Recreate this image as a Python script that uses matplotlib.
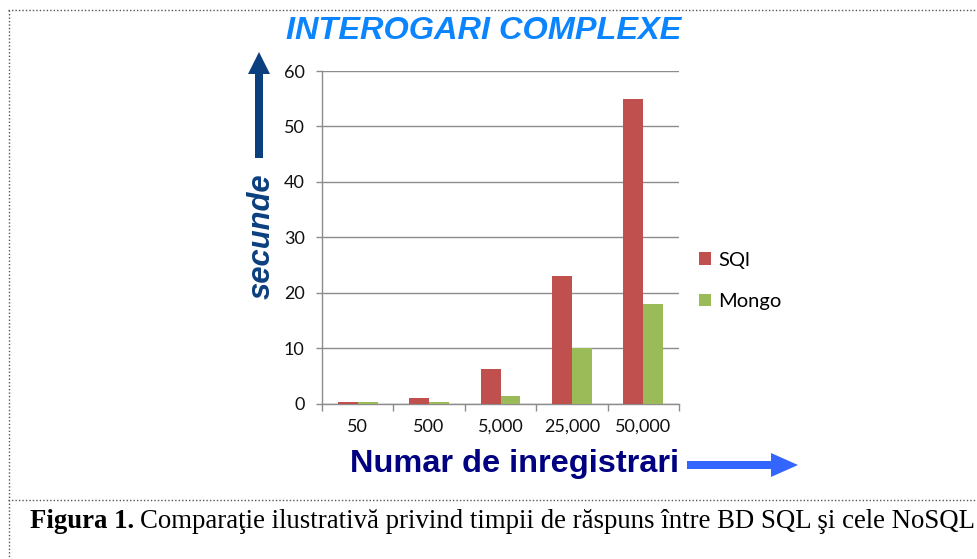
import numpy as np
import matplotlib.pyplot as plt
from matplotlib.patches import FancyArrow, Rectangle

# datele graficului
categorii = ["50", "500", "5,000", "25,000", "50,000"]
sql = [0.3, 1.0, 6.2, 23.0, 55.0]
mongo = [0.3, 0.3, 1.3, 10.0, 18.0]
serii = ["SQl", "Mongo"]
yticks = [0, 10, 20, 30, 40, 50, 60]

W, H = 978, 559
fig = plt.figure(figsize=(W / 100, H / 100), dpi=100)

# strat pentru decor (coordonate in pixeli)
deco = fig.add_axes([0, 0, 1, 1])
deco.set_xlim(0, W)
deco.set_ylim(H, 0)
deco.axis("off")

# chenar punctat
deco.plot([8, W], [9.5, 9.5], color="#555555", lw=1, ls=(0, (1, 1.5)))
deco.plot([8.5, 8.5], [9.5, H], color="#555555", lw=1, ls=(0, (1, 1.5)))
deco.plot([8, W], [500, 500], color="#555555", lw=1, ls=(0, (1, 1.5)))

# axa principala
ax = fig.add_axes([322 / W, (H - 403.5) / H, (679 - 322) / W, (403.5 - 71) / H])
x = np.arange(len(categorii))
lat = 0.28
ax.bar(x - lat / 2, sql, lat, color="#C0504D", label=serii[0], zorder=3)
ax.bar(x + lat / 2, mongo, lat, color="#9BBB59", label=serii[1], zorder=3)

ax.set_xlim(-0.5, len(categorii) - 0.5)
ax.set_ylim(0, 60)
ax.set_yticks(yticks)
ax.set_xticks(x)
ax.set_xticklabels(categorii)
ax.set_xticks(np.arange(len(categorii) + 1) - 0.5, minor=True)
ax.grid(axis="y", color="#8C8C8C", lw=1, zorder=0)
for s in ["top", "right"]:
    ax.spines[s].set_visible(False)
for s in ["left", "bottom"]:
    ax.spines[s].set_color("#8C8C8C")
    ax.spines[s].set_linewidth(1)
ax.tick_params(axis="x", which="major", length=0, pad=11, labelsize=13, labelcolor="#111111")
ax.tick_params(axis="x", which="minor", length=5, color="#8C8C8C", width=1)
ax.tick_params(axis="y", length=4.5, color="#8C8C8C", width=1, pad=8, labelsize=13, labelcolor="#111111")
for t in ax.get_xticklabels() + ax.get_yticklabels():
    t.set_family("Lato")

# legenda
fig.legend(loc="center left", bbox_to_anchor=(681 / W, 1 - 281 / H), frameon=False,
           handlelength=0.6, handleheight=0.6, handletextpad=0.35, labelspacing=1.2,
           prop={"family": "Lato", "size": 14.5})

# titlu
deco.text(484, 31, "INTEROGARI COMPLEXE", ha="center", va="center", fontsize=23.4,
          fontweight="bold", style="italic", color="#0A84FF", family="Liberation Sans")

# eticheta axei y + sageata
deco.text(262, 236, "secunde", ha="center", va="center", rotation=90, fontsize=22.3,
          fontweight="bold", style="italic", color="#0B3F7E", family="Liberation Sans")
deco.add_patch(FancyArrow(259, 158, 0, -106, width=8, head_width=22, head_length=22,
                          length_includes_head=True, color="#0B3F7E", lw=0))

# eticheta axei x + sageata
deco.text(515, 464, "Numar de inregistrari", ha="center", va="center", fontsize=23.4,
          fontweight="bold", color="#000080", family="Liberation Sans")
deco.add_patch(FancyArrow(687, 465, 111, 0, width=8, head_width=24, head_length=27,
                          length_includes_head=True, color="#3366FF", lw=0))

# legenda figurii
t1 = deco.text(30, 521, "Figura 1.", ha="left", va="center", fontsize=19.25,
               fontweight="bold", family="Liberation Serif", color="black")
deco.annotate("Comparaţie ilustrativă privind timpii de răspuns între BD SQL şi cele NoSQL",
              xy=(1, 0), xycoords=t1, xytext=(4, 0), textcoords="offset points",
              ha="left", va="bottom", fontsize=19.25, family="Liberation Serif",
              color="black", annotation_clip=False)

fig.savefig("out.png", dpi=100)
plt.close()
